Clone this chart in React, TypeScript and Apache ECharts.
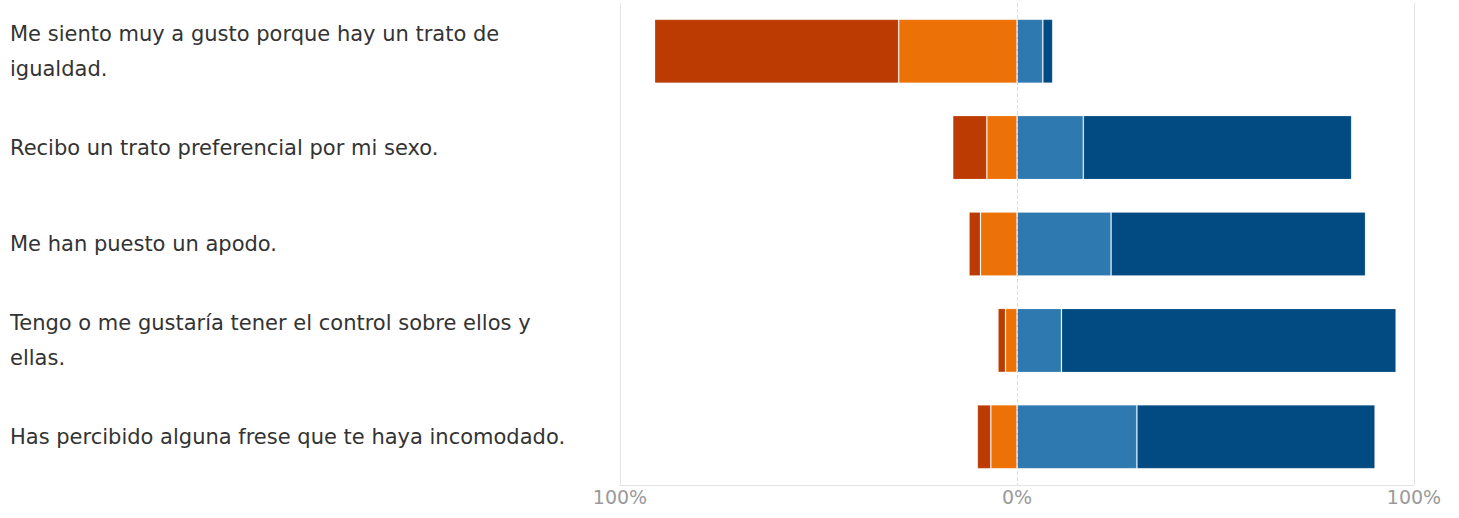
import React, { useEffect, useRef } from "react";
import * as echarts from "echarts";

const categories = [
  "Me siento muy a gusto porque hay un trato de igualdad.",
  "Recibo un trato preferencial por mi sexo.",
  "Me han puesto un apodo.",
  "Tengo o me gustaría tener el control sobre ellos y ellas.",
  "Has percibido alguna frese que te haya incomodado.",
];

// negative side (disagree): outer = darkOrange, inner = orange
const darkOrangeVals = [61.5, 8.6, 2.9, 1.9, 3.4];
const orangeVals = [29.8, 7.6, 9.2, 2.9, 6.6];
// positive side (agree)
const lightBlueVals = [6.5, 16.7, 23.7, 11.2, 30.2];
const darkBlueVals = [2.5, 67.6, 64.1, 84.3, 60.0];

const tickValues = [-100, 0, 100];

export default function App() {
  const ref = useRef<HTMLDivElement>(null);
  useEffect(() => {
    document.body.style.margin = "0";
    const chart = echarts.init(ref.current!, undefined, { renderer: "svg" });
    const barBase = {
      type: "bar" as const,
      stack: "total",
      barWidth: 64,
      itemStyle: { borderColor: "rgba(255,255,255,0.18)", borderWidth: 1 },
    };
    chart.setOption({
      animation: false,
      grid: { left: 620, right: 45, top: 3, bottom: 33, containLabel: false },
      xAxis: {
        type: "value",
        min: -100,
        max: 100,
        interval: 100,
        axisLine: { show: true, lineStyle: { color: "#e3e3e3", width: 1 } },
        axisTick: { show: false },
        splitLine: { show: false },
        axisLabel: {
          color: "#9a9a9a",
          fontSize: 19,
          fontFamily: "DejaVu Sans, sans-serif",
          margin: 2,
          formatter: (v: number) => Math.abs(v) + "%",
        },
      },
      yAxis: {
        type: "category",
        data: categories,
        inverse: true,
        axisLine: { show: false },
        axisTick: { show: false },
        splitLine: { show: false },
        axisLabel: {
          align: "left",
          margin: 610,
          width: 578,
          overflow: "break",
          color: "#333333",
          fontSize: 21,
          lineHeight: 35,
          fontFamily: "DejaVu Sans, sans-serif",
        },
      },
      series: [
        {
          ...barBase,
          name: "orange",
          data: orangeVals.map((v) => -v),
          itemStyle: { ...barBase.itemStyle, color: "#ec7106" },
          markLine: {
            silent: true,
            symbol: "none",
            label: { show: false },
            data: tickValues.map((t) => ({
              xAxis: t,
              lineStyle: {
                color: t === 0 ? "#dcdcdc" : "#e3e3e3",
                type: t === 0 ? "dashed" : "solid",
                width: 1,
              },
            })),
          },
          z: 1,
        },
        {
          ...barBase,
          name: "darkOrange",
          data: darkOrangeVals.map((v) => -v),
          itemStyle: { ...barBase.itemStyle, color: "#bb3b02" },
        },
        {
          ...barBase,
          name: "lightBlue",
          data: lightBlueVals,
          itemStyle: { ...barBase.itemStyle, color: "#2d79b0" },
        },
        {
          ...barBase,
          name: "darkBlue",
          data: darkBlueVals,
          itemStyle: { ...barBase.itemStyle, color: "#014a82" },
        },
      ],
    });
    return () => chart.dispose();
  }, []);
  return <div ref={ref} style={{ width: 1459, height: 518 }} />;
}
